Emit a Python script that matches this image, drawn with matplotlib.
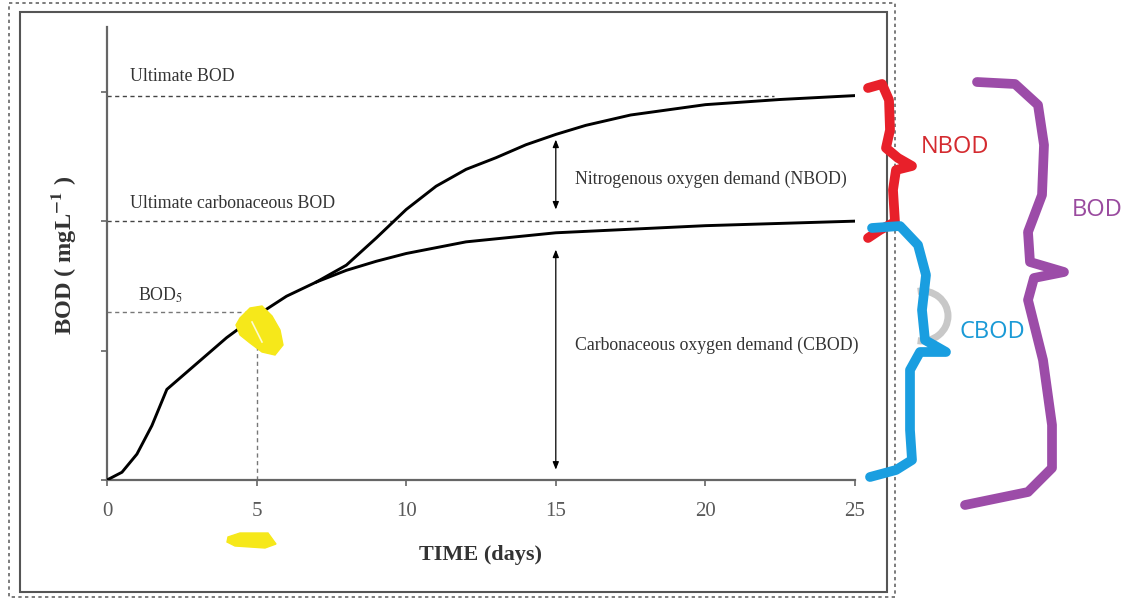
import numpy as np
import matplotlib
matplotlib.use('Agg')
import matplotlib.pyplot as plt
from matplotlib.patches import Rectangle, Polygon, Arc

plt.rcParams['font.family'] = ['Liberation Serif', 'DejaVu Serif']
plt.rcParams['mathtext.fontset'] = 'stix'

#- datos
t_cbod = [0, 0.5, 1, 1.5, 2, 2.5, 3, 4, 5, 6, 7, 8, 9, 10, 12, 15, 20, 25]
cbod = [0, 0.06, 0.2, 0.42, 0.70, 0.80, 0.90, 1.10, 1.27, 1.42, 1.53, 1.62, 1.69, 1.75, 1.84, 1.91, 1.965, 2.0]

t_bod = [7, 8, 9, 10, 11, 12, 13, 14, 15, 16, 17.5, 20, 22.5, 25]
bod = [1.53, 1.66, 1.87, 2.09, 2.27, 2.40, 2.49, 2.59, 2.67, 2.74, 2.82, 2.90, 2.94, 2.97]

ult_bod = 2.97
ult_cbod = 2.0
bod5_t = 5
bod5 = 1.30
x_ticks = [0, 5, 10, 15, 20, 25]
y_ticks = [0, 1, 2, 3]

W, H = 1122, 599
fig = plt.figure(figsize=(W / 100, H / 100), dpi=100)
fig.patch.set_facecolor('white')

#- ejes principales
ax = fig.add_axes([107 / W, 1 - 480 / H, (855 - 107) / W, (480 - 27) / H])
ax.set_xlim(0, 25)
ax.set_ylim(0, 3.5)
for s in ['top', 'right']:
    ax.spines[s].set_visible(False)
for s in ['left', 'bottom']:
    ax.spines[s].set_color('#666666')
    ax.spines[s].set_linewidth(1.6)
ax.set_xticks(x_ticks)
ax.set_yticks(y_ticks)
ax.set_yticklabels([])
ax.tick_params(axis='both', direction='out', length=4, width=1.2, color='#666666',
               labelsize=15, labelcolor='#5a5a5a', pad=12)

ax.plot(t_cbod, cbod, c='k', lw=2.1, zorder=3)
ax.plot(t_bod, bod, c='k', lw=2.1, zorder=3)

dash_kw = dict(color='#444444', lw=1.0, ls=(0, (3, 2.5)))
ax.plot([0, 22.3], [ult_bod, ult_bod], **dash_kw)
ax.plot([0, 17.8], [ult_cbod, ult_cbod], **dash_kw)
ax.plot([0, bod5_t], [bod5, bod5], color='#777777', lw=1.0, ls=(0, (3, 2.5)))
ax.plot([bod5_t, bod5_t], [0, bod5], color='#777777', lw=1.0, ls=(0, (3, 2.5)))

arr = dict(arrowstyle='<|-|>,head_length=0.45,head_width=0.18', color='k', lw=0.9,
           shrinkA=0, shrinkB=0)
ax.annotate('', xy=(15, 2.09), xytext=(15, 2.63), arrowprops=arr)
ax.annotate('', xy=(15, 0.08), xytext=(15, 1.78), arrowprops=arr)

txt_kw = dict(fontsize=12.8, color='#333333', va='center', ha='left')
ax.text(0.77, 3.12, 'Ultimate BOD', **txt_kw)
ax.text(0.77, 2.14, 'Ultimate carbonaceous BOD', **txt_kw)
ax.text(1.04, 1.43, r'BOD$_5$', **txt_kw)
ax.text(15.65, 2.32, 'Nitrogenous oxygen demand (NBOD)', **txt_kw)
ax.text(15.65, 1.04, 'Carbonaceous oxygen demand (CBOD)', **txt_kw)

#- capa de anotaciones en pixeles
ov = fig.add_axes([0, 0, 1, 1], zorder=10)
ov.set_xlim(0, W)
ov.set_ylim(H, 0)
ov.axis('off')
ov.patch.set_alpha(0)

ov.text(481, 555, 'TIME (days)', fontsize=16, fontweight='bold', color='#333333',
        ha='center', va='center')
ov.text(64, 255, r'BOD ( mgL$^{\mathbf{-1}}$ )', fontsize=17.5, fontweight='bold',
        color='#333333', ha='center', va='center', rotation=90)

ov.add_patch(Rectangle((20, 12), 867, 580, fill=False, ec='#555555', lw=1.5))
ov.add_patch(Rectangle((9, 3), 886, 594, fill=False, ec='#666666', lw=1.2, ls=(0, (2, 2))))

red = [(868, 88), (882, 84), (889, 100), (890, 130), (886, 148), (898, 158), (912, 166),
       (896, 170), (893, 190), (895, 222), (880, 230), (868, 238)]
blue = [(872, 228), (900, 226), (918, 245), (926, 275), (922, 310), (925, 340), (946, 352),
        (920, 352), (910, 370), (910, 430), (912, 460), (896, 470), (870, 477)]
purple = [(977, 82), (1015, 84), (1038, 105), (1044, 145), (1042, 195), (1028, 232),
          (1030, 262), (1064, 272), (1034, 278), (1028, 300), (1043, 360), (1052, 425),
          (1052, 468), (1028, 492), (965, 505)]

ov.add_patch(Arc((922, 316), 52, 50, theta1=-100, theta2=100, color='#c8c8c8', lw=5))
for pts, col in [(red, '#e8202a'), (blue, '#1a9ee0'), (purple, '#9c4ca8')]:
    xs, ys = zip(*pts)
    ov.plot(xs, ys, color=col, lw=7, solid_joinstyle='round', solid_capstyle='round')

lab_kw = dict(fontsize=17, family='Open Sans', ha='left', va='center')
ov.text(921, 147, 'NBOD', color='#d42a2f', **lab_kw)
ov.text(960, 332, 'CBOD', color='#1a9ad6', **lab_kw)
ov.text(1072, 210, 'BOD', color='#9a4b9f', **lab_kw)

yel = '#f6e81a'
ov.add_patch(Polygon([(240, 318), (250, 308), (262, 306), (272, 316), (280, 330),
                      (283, 345), (275, 355), (262, 352), (250, 343), (240, 335),
                      (236, 325)], closed=True, fc=yel, ec=yel, lw=1))
ov.plot([252, 258, 262], [322, 334, 342], color='white', lw=1.2, alpha=0.8)
ov.add_patch(Polygon([(228, 537), (240, 533), (268, 533), (276, 544), (265, 548),
                      (235, 546), (227, 542)], closed=True, fc=yel, ec=yel, lw=1))

plt.savefig('out.png', dpi=100)
